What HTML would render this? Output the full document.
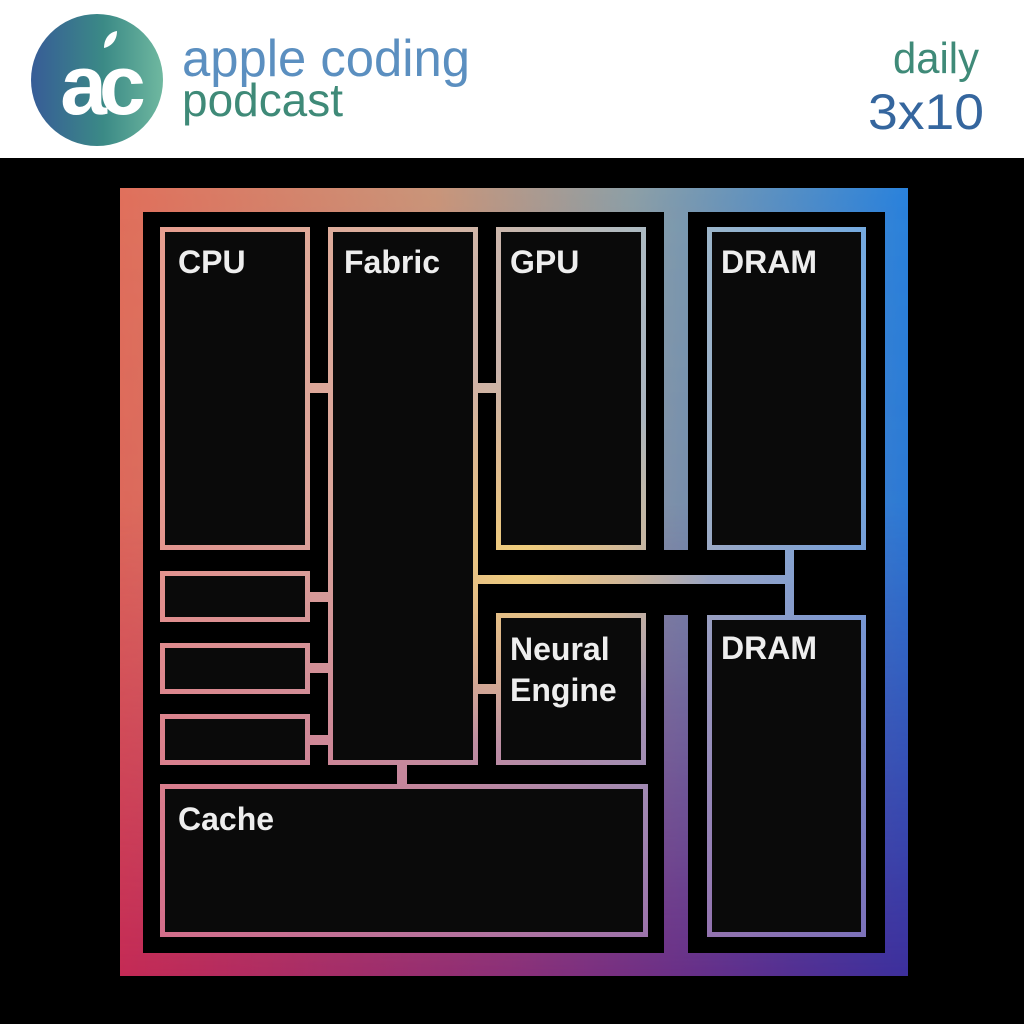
<!DOCTYPE html>
<html><head><meta charset="utf-8"><style>
html,body{margin:0;padding:0;background:#000;}
svg{display:block}
</style></head><body>
<svg width="1024" height="1024" viewBox="0 0 1024 1024" xmlns="http://www.w3.org/2000/svg">
<defs>
  <linearGradient id="lg" x1="0" y1="0" x2="1" y2="0">
    <stop offset="0" stop-color="#375c97"/>
    <stop offset="0.55" stop-color="#3b8a86"/>
    <stop offset="1" stop-color="#6fb8a0"/>
  </linearGradient>
  <linearGradient id="top" gradientUnits="userSpaceOnUse" x1="120" y1="0" x2="908" y2="0">
    <stop offset="0" stop-color="#e0705c"/>
    <stop offset="0.4" stop-color="#c9957a"/>
    <stop offset="0.65" stop-color="#8d9fa6"/>
    <stop offset="1" stop-color="#2a82dc"/>
  </linearGradient>
  <linearGradient id="bot" gradientUnits="userSpaceOnUse" x1="120" y1="0" x2="908" y2="0">
    <stop offset="0" stop-color="#c42a55"/>
    <stop offset="0.5" stop-color="#8a2f78"/>
    <stop offset="1" stop-color="#3d2f9c"/>
  </linearGradient>
  <linearGradient id="vm" gradientUnits="userSpaceOnUse" x1="0" y1="188" x2="0" y2="976">
    <stop offset="0" stop-color="#fff" stop-opacity="0"/>
    <stop offset="0.4" stop-color="#fff" stop-opacity="0.1"/>
    <stop offset="1" stop-color="#fff" stop-opacity="1"/>
  </linearGradient>
  <mask id="vmask"><rect x="0" y="0" width="1024" height="1024" fill="url(#vm)"/></mask>
  <radialGradient id="yel" gradientUnits="userSpaceOnUse" cx="520" cy="560" r="190">
    <stop offset="0" stop-color="#f2d07a" stop-opacity="1"/>
    <stop offset="0.6" stop-color="#eec27c" stop-opacity="0.5"/>
    <stop offset="1" stop-color="#e8c27c" stop-opacity="0"/>
  </radialGradient>
  <mask id="frame">
    <path fill="#fff" fill-rule="evenodd" d="M120 188H908V976H120Z M143 212H664V550H688V212H885V953H688V615H664V953H143Z"/>
  </mask>
  <mask id="shapes">
    <g fill="none" stroke="#fff" stroke-width="5">
      <rect x="162.5" y="229.5" width="145" height="318"/>
      <rect x="330.5" y="229.5" width="145" height="533"/>
      <rect x="498.5" y="229.5" width="145" height="318"/>
      <rect x="709.5" y="229.5" width="154" height="318"/>
      <rect x="162.5" y="573.5" width="145" height="46"/>
      <rect x="162.5" y="645.5" width="145" height="46"/>
      <rect x="162.5" y="716.5" width="145" height="46"/>
      <rect x="498.5" y="615.5" width="145" height="147"/>
      <rect x="162.5" y="786.5" width="483" height="148"/>
      <rect x="709.5" y="617.5" width="154" height="317"/>
    </g>
    <g fill="#fff">
      <rect x="308" y="383" width="24" height="10"/>
      <rect x="474" y="383" width="26" height="10"/>
      <rect x="308" y="592" width="24" height="10"/>
      <rect x="308" y="663" width="24" height="10"/>
      <rect x="308" y="735" width="24" height="10"/>
      <rect x="474" y="684" width="26" height="10"/>
      <rect x="397" y="762" width="10" height="26"/>
      <rect x="474" y="575" width="320" height="9"/>
      <rect x="785" y="548" width="9" height="70"/>
    </g>
  </mask>
</defs>

<rect x="0" y="0" width="1024" height="158" fill="#fff"/>
<circle cx="97" cy="80" r="66" fill="url(#lg)"/>
<text x="99" y="114" text-anchor="middle" font-family="Liberation Sans, sans-serif" font-weight="bold" font-size="84" fill="#fff" letter-spacing="-8">ac</text>
<path d="M104 48 C104 38 110 32 117 31 C117 40 112 46 104 48Z" fill="#fff"/>
<text x="182" y="76" font-family="Liberation Sans, sans-serif" font-size="52" fill="#5b8fc0" textLength="288" lengthAdjust="spacingAndGlyphs">apple coding</text>
<text x="182" y="116" font-family="Liberation Sans, sans-serif" font-size="46" fill="#3f8a78" textLength="161" lengthAdjust="spacingAndGlyphs">podcast</text>
<text x="893" y="73" font-family="Liberation Sans, sans-serif" font-size="44" fill="#3f8a78" textLength="86" lengthAdjust="spacingAndGlyphs">daily</text>
<text x="868" y="129" font-family="Liberation Sans, sans-serif" font-size="50" fill="#35669e" textLength="116" lengthAdjust="spacingAndGlyphs">3x10</text>

<rect x="0" y="158" width="1024" height="866" fill="#000"/>
<g fill="#0a0a0a">
  <rect x="165" y="232" width="140" height="313"/>
  <rect x="333" y="232" width="140" height="528"/>
  <rect x="501" y="232" width="140" height="313"/>
  <rect x="712" y="232" width="149" height="313"/>
  <rect x="165" y="576" width="140" height="41"/>
  <rect x="165" y="648" width="140" height="41"/>
  <rect x="165" y="719" width="140" height="41"/>
  <rect x="501" y="618" width="140" height="142"/>
  <rect x="165" y="789" width="478" height="143"/>
  <rect x="712" y="620" width="149" height="312"/>
</g>
<g mask="url(#frame)">
  <rect x="100" y="170" width="830" height="830" fill="url(#top)"/>
  <rect x="100" y="170" width="830" height="830" fill="url(#bot)" mask="url(#vmask)"/>
</g>
<g mask="url(#shapes)">
  <rect x="100" y="170" width="830" height="830" fill="url(#top)"/>
  <rect x="100" y="170" width="830" height="830" fill="url(#bot)" mask="url(#vmask)"/>
  <rect x="100" y="170" width="830" height="830" fill="#fff" opacity="0.3"/>
  <rect x="100" y="170" width="830" height="830" fill="url(#yel)"/>
</g>
<g font-family="Liberation Sans, sans-serif" font-weight="bold" font-size="32" fill="#eeeeee">
  <text x="178" y="273">CPU</text>
  <text x="344" y="273">Fabric</text>
  <text x="510" y="273">GPU</text>
  <text x="721" y="273">DRAM</text>
  <text x="510" y="660">Neural</text>
  <text x="510" y="701">Engine</text>
  <text x="721" y="659">DRAM</text>
  <text x="178" y="830">Cache</text>
</g>
</svg>
</body></html>
